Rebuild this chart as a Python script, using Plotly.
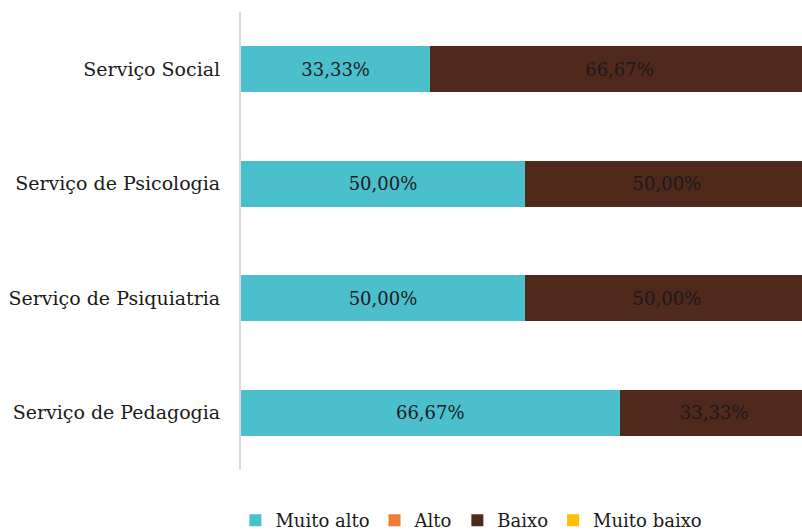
import plotly.graph_objects as go

categories = ["Serviço Social", "Serviço de Psicologia", "Serviço de Psiquiatria", "Serviço de Pedagogia"]
muito_alto = [33.33, 50.00, 50.00, 66.67]
alto = [0, 0, 0, 0]
baixo = [66.67, 50.00, 50.00, 33.33]
muito_baixo = [0, 0, 0, 0]

series = [
    ("Muito alto", muito_alto, "#4BBFCC"),
    ("Alto", alto, "#ED7D31"),
    ("Baixo", baixo, "#50291D"),
    ("Muito baixo", muito_baixo, "#FFC000"),
]

FONT = "DejaVu Serif"

def fmt(v):
    return ("%.2f%%" % v).replace(".", ",") if v > 0 else ""

fig = go.Figure()
for name, vals, color in series:
    fig.add_trace(go.Bar(
        y=categories, x=vals, name=name, orientation="h",
        marker=dict(color=color, line=dict(width=0)),
        text=[fmt(v) for v in vals], textposition="inside",
        insidetextanchor="middle",
        textfont=dict(family=FONT, size=18, color="#1a1a1a"),
        width=0.4,
    ))

fig.update_layout(
    barmode="stack",
    width=802, height=531,
    margin=dict(l=241, r=0, t=12, b=61, autoexpand=False),
    plot_bgcolor="white", paper_bgcolor="white",
    font=dict(family=FONT, size=18, color="#1a1a1a"),
    uniformtext=dict(minsize=18, mode="show"),
    xaxis=dict(range=[0, 98.8], visible=False, fixedrange=True),
    yaxis=dict(autorange="reversed", showline=True, linecolor="#D9D9D9", linewidth=2,
               ticks="", showgrid=False, ticklabelstandoff=15,
               tickfont=dict(family=FONT, size=19)),
    legend=dict(orientation="h", x=-0.01, xanchor="left", y=-0.07, yanchor="top",
                font=dict(family=FONT, size=18), traceorder="normal", itemwidth=30),
    showlegend=True,
)

fig.write_html("out.html")
